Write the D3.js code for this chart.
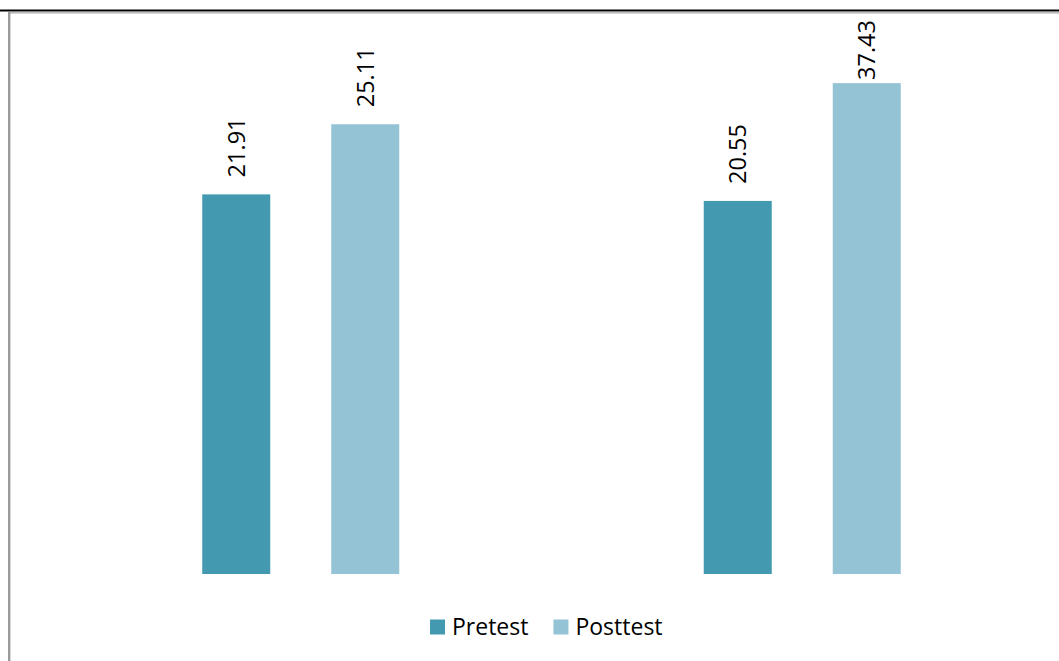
<!DOCTYPE html>
<html>
<head>
<meta charset="utf-8">
<script src="https://cdn.jsdelivr.net/npm/d3@7"></script>
<style>
  body { margin: 0; background: #fff; }
  svg { display: block; }
</style>
</head>
<body>
<div id="chart"></div>
<script>
// data
const groups = ["Group 1", "Group 2"];
const series = ["Pretest", "Posttest"];
// bar heights (implied 0-30 axis, not drawn)
const pretestBars = [20.3, 19.95];
const posttestBars = [24.05, 26.25];
// values printed above the bars
const pretestLabels = ["21.91", "20.55"];
const posttestLabels = ["25.11", "37.43"];

const colors = { Pretest: "#4399b0", Posttest: "#93c3d5" };

const W = 1059, H = 661;
const font = "'Open Sans', sans-serif";

const svg = d3.select("#chart")
  .append("svg")
  .attr("width", W)
  .attr("height", H);

svg.append("rect").attr("width", W).attr("height", H).attr("fill", "#fff");

// frame lines left over from the page the chart sits in
svg.append("line")
  .attr("x1", 0).attr("x2", W).attr("y1", 10.6).attr("y2", 10.6)
  .attr("stroke", "#000").attr("stroke-width", 2);
svg.append("line")
  .attr("x1", 8).attr("x2", W).attr("y1", 12.8).attr("y2", 12.8)
  .attr("stroke", "#a8a8a8").attr("stroke-width", 1.2);
svg.append("line")
  .attr("x1", 9.2).attr("x2", 9.2).attr("y1", 12).attr("y2", H)
  .attr("stroke", "#9a9a9a").attr("stroke-width", 2.4);

const data = groups.map((g, i) => ({
  group: g,
  bars: [
    { key: "Pretest", value: pretestBars[i], label: pretestLabels[i] },
    { key: "Posttest", value: posttestBars[i], label: posttestLabels[i] }
  ]
}));

const x0 = d3.scaleBand()
  .domain(groups)
  .range([50, 1053])
  .padding(0);

const x1 = d3.scaleBand()
  .domain(series)
  .range([0, x0.bandwidth()])
  .paddingInner(0.473)
  .paddingOuter(1.18);

const y = d3.scaleLinear()
  .domain([0, 30])
  .range([574, 13]);

const g = svg.selectAll(".grp")
  .data(data)
  .enter()
  .append("g")
  .attr("class", "grp")
  .attr("transform", d => `translate(${x0(d.group)},0)`);

g.selectAll("rect")
  .data(d => d.bars)
  .enter()
  .append("rect")
  .attr("x", d => x1(d.key))
  .attr("y", d => y(d.value))
  .attr("width", x1.bandwidth())
  .attr("height", d => y(0) - y(d.value))
  .attr("fill", d => colors[d.key]);

const labels = g.selectAll("text")
  .data(d => d.bars)
  .enter()
  .append("text")
  .attr("dy", "0.36em")
  .attr("text-anchor", "start")
  .style("font-family", font)
  .style("font-size", "23.5px")
  .attr("fill", "#000")
  .text(d => d.label);

// labels sit 17px above the bar, but are kept inside the chart area
labels.attr("transform", function(d) {
  const len = this.getComputedTextLength();
  const end = Math.max(y(d.value) - 17, 20 + len);
  return `translate(${x1(d.key) + x1.bandwidth() / 2},${end}) rotate(-90)`;
});

// legend
const legend = svg.append("g").attr("transform", "translate(0,627)");
let lx = 430;
series.forEach(s => {
  legend.append("rect")
    .attr("x", lx).attr("y", -7.5)
    .attr("width", 15).attr("height", 15)
    .attr("fill", colors[s]);
  const t = legend.append("text")
    .attr("x", lx + 22)
    .attr("dy", "0.36em")
    .style("font-family", font)
    .style("font-size", "23px")
    .attr("fill", "#000")
    .text(s);
  lx += 22 + t.node().getComputedTextLength() + 25;
});
</script>
</body>
</html>
